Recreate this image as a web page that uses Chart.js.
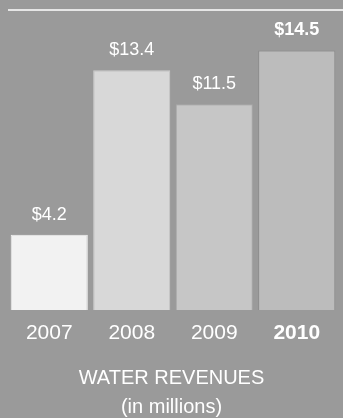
<!DOCTYPE html>
<html>
  <head>
    <title>Water Revenues</title>
    <meta charset="UTF-8" />
    <script src="https://cdn.jsdelivr.net/npm/chart.js@4"></script>
    <style>
      html, body { margin: 0; padding: 0; background: #9a9a9a; }
      #wrap { width: 343px; height: 418px; }
    </style>
  </head>
  <body>
    <div id="wrap"><canvas id="myChart" width="343" height="418"></canvas></div>
    <script>
      var years = ["2007", "2008", "2009", "2010"];
      var revenues = [4.2, 13.4, 11.5, 14.5];
      var valueLabels = ["$4.2", "$13.4", "$11.5", "$14.5"];
      var barColors = ["#f2f2f2", "#d8d8d8", "#c6c6c6", "#bcbcbc"];
      var barBorders = ["#f2f2f2", "#cccccc", "#a8a8a8", "#8a8a8a"];
      var titleLines = ["WATER REVENUES", "(in millions)"];

      var font = "'Liberation Sans', Arial, sans-serif";

      // background, top rule, value labels, year labels and caption
      var decorations = {
        id: "decorations",
        beforeDraw: function(chart) {
          var c = chart.ctx;
          c.save();
          c.fillStyle = "#9a9a9a";
          c.fillRect(0, 0, chart.width, chart.height);
          c.strokeStyle = "#ffffff";
          c.lineWidth = 1.5;
          c.beginPath();
          c.moveTo(8, 10);
          c.lineTo(chart.width, 10);
          c.stroke();
          c.restore();
        },
        afterDraw: function(chart) {
          var c = chart.ctx;
          var meta = chart.getDatasetMeta(0);
          var last = years.length - 1;
          c.save();
          c.fillStyle = "#ffffff";
          c.textAlign = "center";
          c.textBaseline = "middle";
          meta.data.forEach(function(bar, i) {
            c.font = (i == last ? "bold " : "") + "18px " + font;
            c.fillText(valueLabels[i], bar.x, bar.y - 20);
            c.font = (i == last ? "bold " : "") + "21px " + font;
            c.fillText(years[i], bar.x, 333);
          });
          c.font = "20px " + font;
          c.fillText(titleLines[0], chart.width / 2, 378);
          c.fillText(titleLines[1], chart.width / 2, 407);
          c.restore();
        }
      };

      var ctx = document.getElementById("myChart").getContext("2d");
      var chart = new Chart(ctx, {
        type: "bar",
        data: {
          labels: years,
          datasets: [
            {
              data: revenues,
              backgroundColor: barColors,
              borderColor: barBorders,
              borderWidth: 1,
              barPercentage: 0.935,
              categoryPercentage: 1
            }
          ]
        },
        options: {
          responsive: false,
          animation: false,
          layout: { padding: { left: 8, right: 5, top: 10, bottom: 108 } },
          plugins: {
            legend: { display: false },
            tooltip: { enabled: false }
          },
          scales: {
            x: { display: false },
            y: { display: false, min: 0, max: 16.76 }
          }
        },
        plugins: [decorations]
      });
    </script>
  </body>
</html>
